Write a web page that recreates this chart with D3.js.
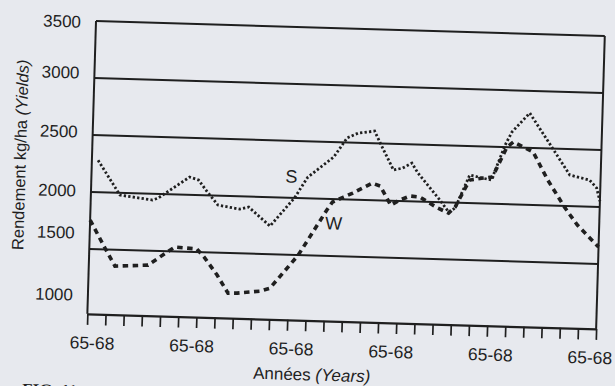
<!DOCTYPE html>
<html>
<head>
<meta charset="utf-8">
<script src="https://cdn.jsdelivr.net/npm/d3@7"></script>
<style>
body { margin: 0; background: #e7e9ee; }
svg { display: block; }
</style>
</head>
<body>
<script>
// data (x = year index along the axis, y = kg/ha)
var yearTicks = d3.range(29);
var tickLabels = ['65-68', '65-68', '65-68', '65-68', '65-68', '65-68'];
var yLabelValues = [3500, 3000, 2500, 2000, 1500, 1000];
var gridValues = [3500, 3000, 2500, 2000, 1500];

// S (dotted)
var sX = [0.34, 1.6, 3.4, 3.7, 5.4, 5.9, 6.4, 7.0, 8.2, 8.7, 9.9, 11.2, 11.9, 13.3, 14.0, 14.6, 15.5, 15.8, 16.6, 17.1, 17.6, 17.95, 19.2, 19.7, 20.05, 20.8, 21.5, 22.0, 22.7, 23.05, 24.0, 25.3, 26.3, 27.4, 27.8, 28.0];
var sY = [2280, 1980, 1945, 1963, 2156, 2132, 2030, 1918, 1888, 1908, 1747, 2000, 2186, 2370, 2540, 2585, 2607, 2512, 2270, 2290, 2336, 2250, 2019, 1916, 1953, 2246, 2223, 2208, 2519, 2634, 2805, 2505, 2272, 2233, 2165, 2050];

// W (dashed)
var wX = [0, 0.86, 1.44, 3.26, 4.28, 4.71, 5.92, 6.33, 7.07, 7.7, 8.2, 9.46, 10.0, 11.5, 13.0, 13.3, 13.9, 14.4, 15.45, 15.9, 16.5, 17.0, 17.55, 18.1, 18.55, 19.1, 19.7, 20.05, 20.8, 21.55, 22.05, 22.8, 23.15, 23.7, 24.25, 25.1, 26.1, 26.8, 28.0];
var wY = [1753, 1512, 1356, 1373, 1492, 1538, 1527, 1458, 1304, 1148, 1151, 1174, 1203, 1500, 1902, 1974, 2020, 2058, 2150, 2126, 1962, 2009, 2047, 2040, 1998, 1948, 1907, 1962, 2202, 2223, 2234, 2501, 2547, 2505, 2464, 2222, 1981, 1835, 1648];

// where the series letters sit (data units)
var seriesNames = ['S', 'W'];
var nameX = [11.0, 13.4];
var nameY = [2190, 1790];

// layout
var W = 615, H = 386;
var margin = {left: 96, top: 21};
var width = 509, height = 293;
var tilt = 1.69;           // the scan is slightly rotated
var ink = '#1f1f1f';
// the printed y labels do not sit exactly on their lines
var labelNudge = [1, -5, -3, -1, -16, -11];

var svg = d3.select('body').append('svg')
    .attr('width', W)
    .attr('height', H)
    .style('font-family', '"Liberation Sans", Arial, sans-serif');

svg.append('rect').attr('width', W).attr('height', H).attr('fill', '#e7e9ee');

var page = svg.append('g')
    .attr('transform', 'rotate(' + tilt + ',' + margin.left + ',' + margin.top + ')');
var g = page.append('g')
    .attr('transform', 'translate(' + margin.left + ',' + margin.top + ')');

var x = d3.scaleLinear().domain([0, 28]).range([0, width]);
var y = d3.scaleLinear().domain([930, 3500]).range([height, 0]);

// horizontal lines
g.selectAll('.grid')
    .data(gridValues)
    .enter().append('line')
        .attr('class', 'grid')
        .attr('x1', 0)
        .attr('x2', width)
        .attr('y1', function(d) { return y(d); })
        .attr('y2', function(d) { return y(d); })
        .attr('stroke', ink)
        .attr('stroke-width', 2);

// side borders
g.selectAll('.side')
    .data([0, 28])
    .enter().append('line')
        .attr('class', 'side')
        .attr('x1', function(d) { return x(d); })
        .attr('x2', function(d) { return x(d); })
        .attr('y1', y(3500))
        .attr('y2', height)
        .attr('stroke', ink)
        .attr('stroke-width', 2);

// bottom axis
var xAxis = g.append('g')
    .attr('transform', 'translate(0,' + height + ')')
    .call(d3.axisBottom(x).tickValues(yearTicks).tickSize(11).tickSizeOuter(0).tickFormat(''));
xAxis.select('.domain').attr('stroke', ink).attr('stroke-width', 2.2);
xAxis.selectAll('.tick line').attr('stroke', ink).attr('stroke-width', 1.7);

var xl = d3.scalePoint().domain(d3.range(tickLabels.length)).range([x(0.3), x(27.7)]);
g.selectAll('.xlab')
    .data(tickLabels)
    .enter().append('text')
        .attr('class', 'xlab')
        .attr('x', function(d, i) { return xl(i); })
        .attr('y', height + 35)
        .attr('text-anchor', 'middle')
        .attr('font-size', 17.5)
        .attr('fill', ink)
        .text(function(d) { return d; });

g.selectAll('.ylab')
    .data(yLabelValues)
    .enter().append('text')
        .attr('class', 'ylab')
        .attr('x', -15)
        .attr('y', function(d, i) { return y(d) + labelNudge[i]; })
        .attr('dy', '0.36em')
        .attr('text-anchor', 'end')
        .attr('font-size', 17)
        .attr('fill', ink)
        .text(function(d) { return d; });

// series
var line = d3.line()
    .x(function(d) { return x(d[0]); })
    .y(function(d) { return y(d[1]); });

g.append('path')
    .datum(d3.zip(sX, sY))
    .attr('d', line)
    .attr('fill', 'none')
    .attr('stroke', ink)
    .attr('stroke-width', 2.8)
    .attr('stroke-dasharray', '2.3,2.2');

g.append('path')
    .datum(d3.zip(wX, wY))
    .attr('d', line)
    .attr('fill', 'none')
    .attr('stroke', ink)
    .attr('stroke-width', 3.6)
    .attr('stroke-dasharray', '5.5,4.5');

g.selectAll('.sname')
    .data(seriesNames)
    .enter().append('text')
        .attr('class', 'sname')
        .attr('x', function(d, i) { return x(nameX[i]); })
        .attr('y', function(d, i) { return y(nameY[i]); })
        .attr('dy', '0.36em')
        .attr('text-anchor', 'middle')
        .attr('font-size', 18)
        .attr('fill', ink)
        .text(function(d) { return d; });

// axis titles
var yt = g.append('text')
    .attr('transform', 'translate(-66,136) rotate(-90)')
    .attr('text-anchor', 'middle')
    .attr('font-size', 16.5)
    .attr('fill', ink);
yt.append('tspan').text('Rendement kg/ha ');
yt.append('tspan').attr('font-style', 'italic').text('(Yields)');

var xt = g.append('text')
    .attr('x', 226)
    .attr('y', 353)
    .attr('text-anchor', 'middle')
    .attr('font-size', 17)
    .attr('fill', ink);
xt.append('tspan').text('Années ');
xt.append('tspan').attr('font-style', 'italic').text('(Years)');

// caption, cut off by the page edge as in the scan
g.append('text')
    .attr('x', -63)
    .attr('y', 376)
    .attr('font-family', '"Liberation Serif", serif')
    .attr('font-weight', 'bold')
    .attr('font-size', 17)
    .attr('fill', ink)
    .text('FIG. 11');
</script>
</body>
</html>
